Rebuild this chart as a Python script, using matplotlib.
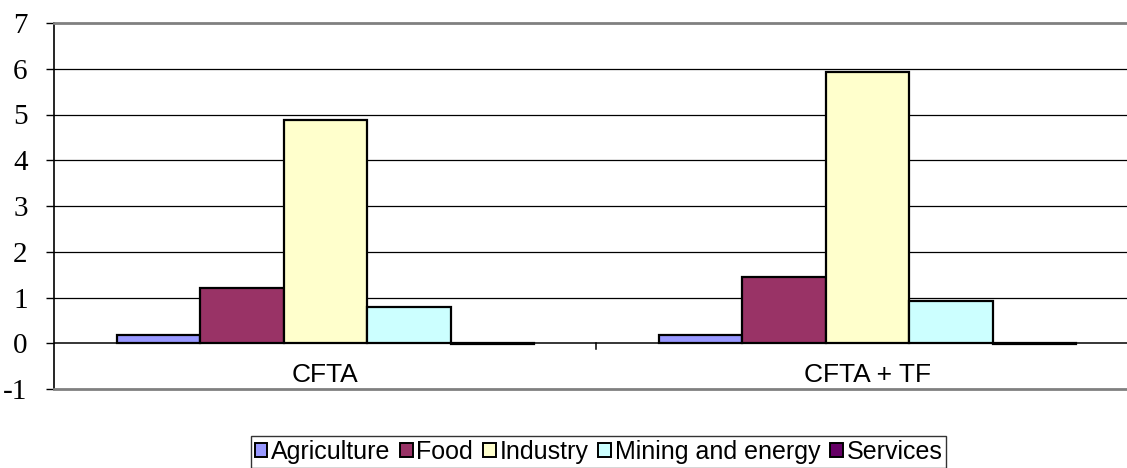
import matplotlib
matplotlib.use("Agg")
import matplotlib.pyplot as plt
from matplotlib.patches import Patch
import numpy as np

groups = ["CFTA", "CFTA + TF"]
sectors = ["Agriculture", "Food", "Industry", "Mining and energy", "Services"]
agriculture = [0.18, 0.19]
food = [1.2, 1.44]
industry = [4.88, 5.92]
mining = [0.8, 0.92]
services = [-0.02, -0.02]
yticks = [-1, 0, 1, 2, 3, 4, 5, 6, 7]

colors = ["#9999FF", "#993366", "#FFFFCC", "#CCFFFF", "#660066"]
series = [agriculture, food, industry, mining, services]

W, H = 1127, 468
fig = plt.figure(figsize=(W / 100, H / 100), dpi=100)
left = 54 / W
bottom = 1 - 389 / H
top = 1 - 23 / H
ax = fig.add_axes([left, bottom, 1 - left + 0.01, top - bottom])

bw = 0.154
start = 0.116
xg = np.arange(len(groups))
for i, (vals, c) in enumerate(zip(series, colors)):
    ax.bar(xg + start + i * bw, vals, width=bw, align="edge", color=c,
           edgecolor="black", linewidth=1.6, zorder=3)

ax.set_xlim(0, (W * (1 - left + 0.01)) / 542)
ax.set_ylim(-1, 7)
ax.set_yticks(yticks)
ax.set_yticklabels([str(t) for t in yticks])
for lab in ax.get_yticklabels():
    lab.set_fontfamily("Liberation Serif")
    lab.set_fontsize(21)
ax.tick_params(axis="y", length=6, width=1, pad=13, direction="out")
ax.set_xticks([])
for t in yticks[2:-1]:
    ax.axhline(t, color="black", linewidth=0.9, zorder=1)
ax.axhline(0, color="black", linewidth=1.1, zorder=2)
ax.plot([1, 1], [0, -0.13], color="black", linewidth=1.1, clip_on=False, zorder=2)

ax.spines["right"].set_visible(False)
ax.spines["top"].set_color("#808080")
ax.spines["top"].set_linewidth(2)
ax.spines["bottom"].set_color("#808080")
ax.spines["bottom"].set_linewidth(2)
ax.spines["left"].set_color("black")
ax.spines["left"].set_linewidth(1.2)

for i, g in enumerate(groups):
    ax.text(i + 0.5, -0.69, g, ha="center", va="center", fontsize=19,
            family="Liberation Sans")

handles = [Patch(facecolor=c, edgecolor="black", linewidth=1.4) for c in colors]
leg = fig.legend(handles, sectors, loc="center", bbox_to_anchor=(0.531, 1 - 452 / H),
                 ncol=5, frameon=True, fancybox=False,
                 prop={"family": "Liberation Sans", "size": 18},
                 handlelength=0.5, handleheight=0.5, handletextpad=0.15,
                 columnspacing=0.4, borderpad=0.15, borderaxespad=0)
leg.get_frame().set_edgecolor("black")
leg.get_frame().set_linewidth(1.0)

fig.savefig("out.png", dpi=100)
